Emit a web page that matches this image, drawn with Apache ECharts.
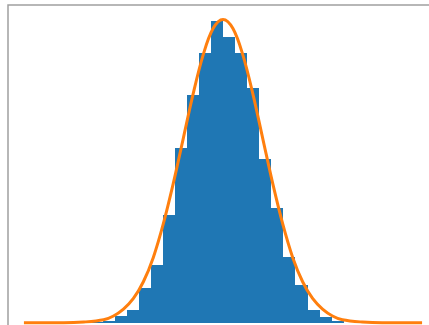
<!DOCTYPE html>
<html>
<head>
<meta charset="utf-8">
<script src="https://cdn.jsdelivr.net/npm/echarts@6/dist/echarts.min.js"></script>
<style>
  html, body { margin: 0; padding: 0; background: #ffffff; }
  #chart { width: 429px; height: 325px; }
</style>
</head>
<body>
<div id="chart"></div>
<script>
// Histogram bin edges (n + 1 values) and the density of each bin.
const binEdges = [-3.3225, -3.02, -2.7175, -2.415, -2.1125, -1.81, -1.5075, -1.205, -0.9025, -0.6, -0.2975,
                  0.005, 0.3075, 0.61, 0.9125, 1.215, 1.5175, 1.82, 2.1225, 2.425, 2.7275, 3.03];
const binDensity = [0.001, 0.003, 0.009, 0.017, 0.046, 0.076, 0.142, 0.230, 0.300, 0.355, 0.397,
                    0.376, 0.355, 0.309, 0.215, 0.151, 0.087, 0.050, 0.017, 0.007, 0.003];

// Density curve drawn over the histogram.
const curveX = [-5, -4.5, -4, -3.5, -3, -2.75, -2.5, -2.25, -2, -1.75, -1.5, -1.25, -1, -0.75, -0.5, -0.25, 0,
                0.25, 0.5, 0.75, 1, 1.25, 1.5, 1.75, 2, 2.25, 2.5, 2.75, 3, 3.5, 4, 4.5, 5];
const curveY = [0.000, 0.000, 0.000, 0.001, 0.004, 0.009, 0.018, 0.032, 0.054, 0.086, 0.130, 0.183, 0.242, 0.301, 0.352, 0.387, 0.399,
                0.387, 0.352, 0.301, 0.242, 0.183, 0.130, 0.086, 0.054, 0.032, 0.018, 0.009, 0.004, 0.001, 0.000, 0.000, 0.000];

const histData = binDensity.map((d, i) => [binEdges[i], binEdges[i + 1], d]);
const curveData = curveX.map((x, i) => [x, curveY[i]]);

const chart = echarts.init(document.getElementById('chart'), null, { renderer: 'canvas' });
chart.setOption({
  animation: false,
  backgroundColor: '#ffffff',
  grid: {
    left: 8, top: 5, width: 430, height: 333,
    outerBoundsMode: 'none',
    containLabel: false,
    show: true, borderColor: '#a0a0a0', borderWidth: 1.5, backgroundColor: 'transparent'
  },
  xAxis: {
    type: 'value', min: -5.4, max: 5.4,
    axisLine: { show: false }, axisTick: { show: false }, axisLabel: { show: false }, splitLine: { show: false }
  },
  yAxis: {
    type: 'value', min: -0.02, max: 0.418,
    axisLine: { show: false }, axisTick: { show: false }, axisLabel: { show: false }, splitLine: { show: false }
  },
  series: [
    {
      type: 'custom',
      data: histData,
      encode: { x: [0, 1], y: 2 },
      renderItem: function (params, api) {
        // Snap bar edges to whole pixels so neighbouring bars meet without seams.
        const topLeft = api.coord([api.value(0), api.value(2)]);
        const bottomRight = api.coord([api.value(1), 0]);
        const x0 = Math.round(topLeft[0]);
        const x1 = Math.round(bottomRight[0]);
        const y0 = Math.round(topLeft[1]);
        const y1 = Math.round(bottomRight[1]);
        return {
          type: 'rect',
          shape: { x: x0, y: y0, width: x1 - x0, height: y1 - y0 },
          style: { fill: '#1f77b4' }
        };
      }
    },
    {
      type: 'line',
      data: curveData,
      smooth: 0.35,
      showSymbol: false,
      lineStyle: { color: '#ff7f0e', width: 3 }
    }
  ]
});
</script>
</body>
</html>
